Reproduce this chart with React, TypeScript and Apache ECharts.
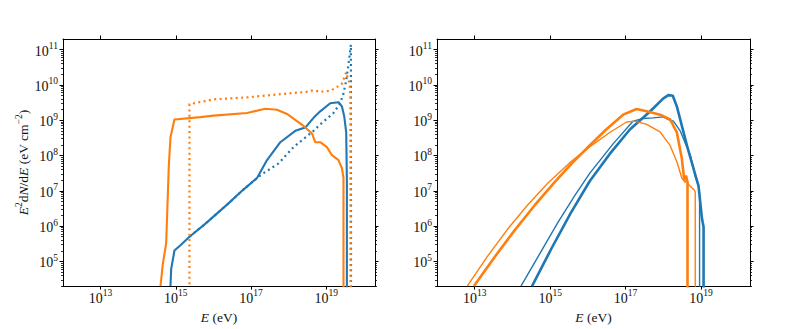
import React, { useEffect, useRef } from "react";
import * as echarts from "echarts";

// ---- axis ranges (log10 units) ----
const X_MIN = 12.0;
const X_MAX = 20.3;
const Y_MIN = 4.3;
const Y_MAX = 11.3;

// ---- tick labels (exponents of 10) ----
const xTickExps = [13, 15, 17, 19];
const yTickExps = [5, 6, 7, 8, 9, 10, 11];

// ---- left panel data: log10(E / eV), log10(E^2 dN/dE / eV cm^-2) ----
const leftBlueSolidE = [14.859, 14.878, 14.965, 15.125, 15.372, 15.744, 16.365, 16.806, 17.162, 17.428, 17.781, 18.179, 18.445, 18.665, 18.843, 19.109, 19.329, 19.42, 19.481, 19.534, 19.552, 19.552];
const leftBlueSolidF = [4.3, 4.785, 5.309, 5.456, 5.704, 6.028, 6.608, 7.041, 7.362, 7.87, 8.376, 8.699, 8.79, 9.066, 9.251, 9.481, 9.508, 9.39, 9.113, 8.652, 7.271, 4.2];

const leftOrangeSolidE = [14.594, 14.655, 14.745, 14.814, 14.859, 14.965, 15.656, 16.009, 16.896, 17.382, 17.693, 17.959, 18.224, 18.4, 18.623, 18.71, 18.843, 19.021, 19.154, 19.329, 19.42, 19.462, 19.462];
const leftOrangeSolidF = [4.3, 4.92, 5.52, 7.685, 8.514, 9.019, 9.086, 9.13, 9.204, 9.323, 9.296, 9.177, 8.975, 8.837, 8.624, 8.376, 8.376, 8.238, 8.008, 7.87, 7.638, 7.362, 4.2];

const leftBlueDottedE = [15.372, 15.744, 16.365, 16.806, 17.162, 17.337, 17.736, 18.134, 18.665, 18.843, 19.197, 19.374, 19.462, 19.534, 19.595, 19.659, 19.662];
const leftBlueDottedF = [5.704, 6.028, 6.608, 7.041, 7.362, 7.5, 7.776, 8.238, 8.699, 8.881, 9.204, 9.481, 9.757, 10.124, 10.586, 11.138, 4.2];

const leftOrangeDottedE = [15.364, 15.364, 16.009, 16.896, 17.781, 18.49, 18.665, 18.843, 19.109, 19.287, 19.42, 19.534, 19.568, 19.627, 19.648, 19.648];
const leftOrangeDottedF = [4.2, 9.453, 9.591, 9.646, 9.738, 9.804, 9.848, 9.804, 9.831, 9.942, 10.033, 10.356, 10.218, 10.033, 9.619, 4.2];

// ---- right panel data ----
const rightBlueThickE = [14.52, 15.035, 15.541, 16.048, 16.581, 17.115, 17.648, 18.003, 18.136, 18.253, 18.36, 18.627, 18.848, 18.936, 19.027, 19.069, 19.069];
const rightBlueThickF = [4.3, 5.365, 6.359, 7.271, 8.044, 8.735, 9.246, 9.619, 9.71, 9.693, 9.39, 8.285, 7.456, 7.133, 6.213, 5.972, 4.2];

const rightBlueThinE = [14.227, 14.715, 15.195, 15.648, 16.048, 16.669, 17.203, 17.469, 17.736, 18.003, 18.136, 18.269, 18.448, 18.715, 18.803, 18.848, 18.936, 18.963, 18.963];
const rightBlueThinF = [4.3, 5.199, 6.083, 6.856, 7.492, 8.329, 8.975, 9.047, 9.066, 9.094, 9.019, 8.975, 8.699, 8.008, 7.638, 7.409, 7.133, 6.856, 4.2];

const rightOrangeThickE = [12.981, 13.515, 14.048, 14.581, 15.115, 15.595, 16.048, 16.493, 16.936, 17.293, 17.56, 17.915, 18.181, 18.36, 18.493, 18.555, 18.608, 18.643, 18.643];
const rightOrangeThickF = [4.3, 5.105, 5.865, 6.577, 7.24, 7.796, 8.282, 8.743, 9.157, 9.315, 9.251, 9.157, 9.019, 8.652, 7.914, 7.326, 7.409, 7.243, 4.2];

const rightOrangeThinE = [12.803, 13.336, 13.869, 14.403, 14.936, 15.515, 16.048, 16.581, 17.027, 17.248, 17.56, 17.915, 18.181, 18.36, 18.493, 18.581, 18.621, 18.661, 18.821, 18.848, 18.848];
const rightOrangeThinF = [4.3, 5.141, 5.909, 6.599, 7.213, 7.79, 8.243, 8.652, 8.948, 8.975, 8.881, 8.671, 8.285, 7.823, 7.362, 7.243, 7.326, 7.188, 7.022, 6.967, 4.2];

const BLUE = "#1f77b4";
const ORANGE = "#ff7f0e";
const FONT = '"Liberation Serif", "DejaVu Serif", serif';

const pairs = (e: number[], f: number[]) => e.map((x, i) => [x, f[i]]);

const yMinorTicks: number[] = [];
for (let n = 4; n <= 11; n++) {
  for (let k = 2; k <= 9; k++) {
    const v = n + Math.log10(k);
    if (v > Y_MIN && v < Y_MAX) yMinorTicks.push(v);
  }
}

const tickRich = {
  b: { fontFamily: FONT, fontSize: 14, lineHeight: 17, verticalAlign: "bottom", color: "#111" },
  s: { fontFamily: FONT, fontSize: 9.5, lineHeight: 10, verticalAlign: "top", color: "#111" },
};
const nameRich = {
  i: { fontFamily: FONT, fontStyle: "italic", fontSize: 13.5, lineHeight: 17, verticalAlign: "bottom", color: "#111" },
  r: { fontFamily: FONT, fontSize: 13.5, lineHeight: 17, verticalAlign: "bottom", color: "#111" },
  s: { fontFamily: FONT, fontSize: 9.5, lineHeight: 10, verticalAlign: "top", color: "#111" },
};
const fmt = (v: number) => `{b|10}{s|${Math.round(v)}}`;

const lineStyleAxis = { color: "#000", width: 1 };

function xAxesFor(g: number) {
  const base = {
    type: "value",
    gridIndex: g,
    min: X_MIN,
    max: X_MAX,
    splitLine: { show: false },
    axisLine: { show: true, onZero: false, lineStyle: lineStyleAxis },
    axisTick: { show: true, inside: false, length: 3.5, customValues: xTickExps, lineStyle: lineStyleAxis },
  };
  return [
    {
      ...base,
      position: "bottom",
      axisLabel: { show: true, customValues: xTickExps, formatter: fmt, rich: tickRich, margin: 2 },
      name: "{i|E}{r| (eV)}",
      nameLocation: "middle",
      nameGap: 18,
      nameTextStyle: { fontFamily: FONT, fontSize: 13.5, rich: nameRich },
    },
    { ...base, position: "top", axisLabel: { show: false } },
  ];
}

function yAxesFor(g: number, withName: boolean) {
  const base = {
    type: "value",
    gridIndex: g,
    min: Y_MIN,
    max: Y_MAX,
    splitLine: { show: false },
  };
  const major = {
    ...base,
    axisLine: { show: true, onZero: false, lineStyle: lineStyleAxis },
    axisTick: { show: true, inside: false, length: 3.5, customValues: yTickExps, lineStyle: lineStyleAxis },
  };
  const minor = {
    ...base,
    axisLine: { show: false, onZero: false },
    axisTick: { show: true, inside: false, length: 2, customValues: yMinorTicks, lineStyle: { color: "#000", width: 0.8 } },
    axisLabel: { show: false },
  };
  const left: any = {
    ...major,
    position: "left",
    axisLabel: { show: true, customValues: yTickExps, formatter: fmt, rich: tickRich, margin: 5 },
  };
  if (withName) {
    left.name = "{i|E}{s|2}{r|d}{i|N}{r|/d}{i|E}{r| (eV cm}{s|\u22122}{r|)}";
    left.nameLocation = "middle";
    left.nameRotate = 90;
    left.nameGap = 30;
    left.nameTextStyle = { fontFamily: FONT, fontSize: 13.5, rich: nameRich };
  }
  return [
    left,
    { ...major, position: "right", axisLabel: { show: false } },
    { ...minor, position: "left" },
    { ...minor, position: "right" },
  ];
}

function line(name: string, g: number, e: number[], f: number[], color: string, width: number, dotted = false) {
  return {
    name,
    type: "line",
    xAxisIndex: g * 2,
    yAxisIndex: g * 4,
    data: pairs(e, f),
    showSymbol: false,
    symbol: "none",
    clip: true,
    lineStyle: { color, width, type: dotted ? [2, 3.4] : "solid", cap: "butt", join: "round" },
    z: 2,
  };
}

export default function App() {
  const ref = useRef<HTMLDivElement>(null);
  useEffect(() => {
    if (!ref.current) return;
    const chart = echarts.init(ref.current, undefined, { renderer: "svg" });
    chart.setOption({
      animation: false,
      backgroundColor: "#ffffff",
      textStyle: { fontFamily: FONT },
      grid: [
        { left: 63, top: 39, width: 312, height: 254 },
        { left: 437, top: 39, width: 313, height: 254 },
      ],
      xAxis: [...xAxesFor(0), ...xAxesFor(1)],
      yAxis: [...yAxesFor(0, true), ...yAxesFor(1, false)],
      series: [
        line("left blue", 0, leftBlueSolidE, leftBlueSolidF, BLUE, 2.1),
        line("left orange", 0, leftOrangeSolidE, leftOrangeSolidF, ORANGE, 2.1),
        line("left blue dotted", 0, leftBlueDottedE, leftBlueDottedF, BLUE, 2.2, true),
        line("left orange dotted", 0, leftOrangeDottedE, leftOrangeDottedF, ORANGE, 2.2, true),
        line("right blue thin", 1, rightBlueThinE, rightBlueThinF, BLUE, 1.4),
        line("right blue thick", 1, rightBlueThickE, rightBlueThickF, BLUE, 2.6),
        line("right orange thin", 1, rightOrangeThinE, rightOrangeThinF, ORANGE, 1.4),
        line("right orange thick", 1, rightOrangeThickE, rightOrangeThickF, ORANGE, 2.6),
      ],
    });
    return () => chart.dispose();
  }, []);
  return (
    <div
      ref={ref}
      style={{ position: "absolute", left: 0, top: 0, width: 789, height: 329 }}
    />
  );
}
